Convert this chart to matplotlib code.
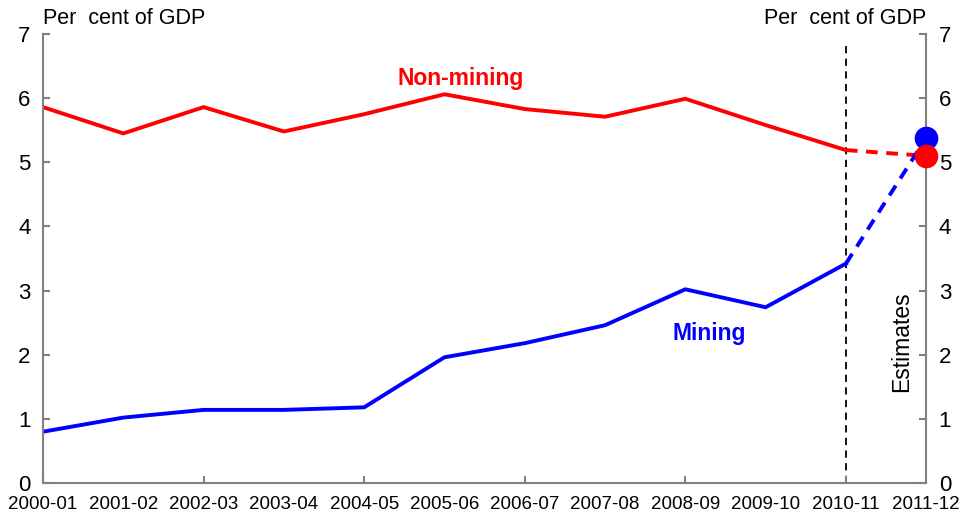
import matplotlib.pyplot as plt
import numpy as np

plt.rcParams['font.family'] = ['Liberation Sans', 'DejaVu Sans']

years = ['2000-01', '2001-02', '2002-03', '2003-04', '2004-05', '2005-06',
         '2006-07', '2007-08', '2008-09', '2009-10', '2010-11', '2011-12']
non_mining = [5.86, 5.45, 5.86, 5.48, 5.75, 6.06, 5.83, 5.71, 5.99, 5.58, 5.19, 5.10]
mining = [0.80, 1.02, 1.14, 1.14, 1.18, 1.96, 2.18, 2.46, 3.02, 2.74, 3.42, 5.38]
n_actual = 11   # last actual year is 2010-11, rest are estimates

red = '#ff0000'
blue = '#0000ff'
grey = '#808080'

fig = plt.figure(figsize=(9.6, 5.15), dpi=100)
ax = fig.add_axes([0.0448, 0.0621, 0.92, 0.8719])
x = np.arange(len(years))

# actuals
ax.plot(x[:n_actual], non_mining[:n_actual], color=red, lw=2.8)
ax.plot(x[:n_actual], mining[:n_actual], color=blue, lw=2.8)
# estimates
ax.plot(x[n_actual-1:], non_mining[n_actual-1:], color=red, lw=2.8, ls=(0, (3, 2.2)))
ax.plot(x[n_actual-1:], mining[n_actual-1:], color=blue, lw=2.8, ls=(0, (3, 2.2)))
ax.plot(x[-1], mining[-1], 'o', color=blue, ms=16, clip_on=False, zorder=5)
ax.plot(x[-1], non_mining[-1], 'o', color=red, ms=16, clip_on=False, zorder=6)

ax.vlines(x[n_actual-1], 0, 6.85, color='black', lw=1.3, ls=(0, (4, 3)), zorder=1)

ax.set_xlim(0, len(years) - 1)
ax.set_ylim(0, 7)
ax.set_xticks(x)
ax.set_xticklabels(years)
ax.set_yticks(range(8))

ax.spines['top'].set_visible(False)
for s in ['left', 'right', 'bottom']:
    ax.spines[s].set_color(grey)
    ax.spines[s].set_linewidth(1.5)

ax.tick_params(axis='x', direction='in', length=5, color=grey, width=1.5,
               labelsize=13.5, pad=9)
ax.tick_params(axis='y', direction='in', length=5, color=grey, width=1.5,
               labelsize=16, pad=9, left=True, right=True,
               labelleft=True, labelright=True)
# only every second x tick mark visible
for i, t in enumerate(ax.xaxis.get_major_ticks()):
    if i % 2 == 1:
        t.tick1line.set_visible(False)

ax.text(0.0, 1.012, 'Per  cent of GDP', transform=ax.transAxes, fontsize=15.5,
        ha='left', va='bottom')
ax.text(1.0, 1.012, 'Per  cent of GDP', transform=ax.transAxes, fontsize=15.5,
        ha='right', va='bottom')
ax.text(5.2, 6.3, 'Non-mining', color=red, fontsize=16.5, fontweight='bold',
        ha='center', va='center')
ax.text(8.3, 2.33, 'Mining', color=blue, fontsize=16.5, fontweight='bold',
        ha='center', va='center')
ax.text(10.69, 2.2, 'Estimates', rotation=90, fontsize=16.5, ha='center', va='center')

fig.savefig('out.png', dpi=100)
